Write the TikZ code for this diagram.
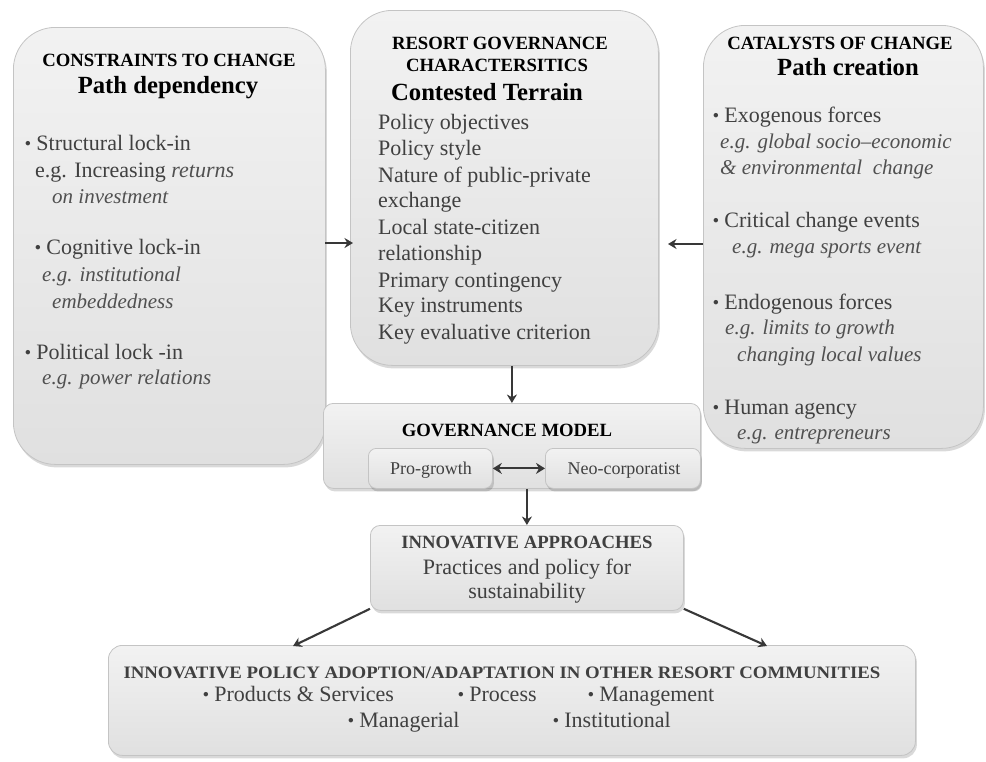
\documentclass[tikz,border=0pt]{standalone}
\usepackage{fontspec}
\setmainfont{Liberation Serif}
\usetikzlibrary{shadows,arrows.meta}
\definecolor{boxborder}{HTML}{C4C4C4}
\definecolor{boxtop}{HTML}{F2F2F2}
\definecolor{boxbot}{HTML}{E0E0E0}
\definecolor{txt}{HTML}{404040}
\definecolor{ital}{HTML}{505050}
\definecolor{arrowc}{HTML}{383838}
\tikzset{
  panel/.style={draw=boxborder, line width=0.8pt, top color=boxtop, bottom color=boxbot,
    drop shadow={shadow xshift=1.5pt, shadow yshift=-3pt, fill=black, opacity=0.15},
    inner sep=0pt, anchor=north west},
  big/.style={panel, rounded corners=42pt},
  small/.style={panel, rounded corners=10pt},
  hd/.style={anchor=base, inner sep=0pt, font=\fontsize{18.7}{21}\selectfont\bfseries, text=black},
  ti/.style={anchor=base, inner sep=0pt, font=\fontsize{24.7}{28}\selectfont\bfseries, text=black},
  it/.style={anchor=base west, inner sep=0pt, font=\fontsize{22}{26}\selectfont, text=txt},
  em/.style={anchor=base west, inner sep=0pt, font=\fontsize{21}{25}\selectfont\itshape, text=ital},
  ct/.style={anchor=base, inner sep=0pt, font=\fontsize{22}{26}\selectfont, text=txt},
  arr/.style={draw=arrowc, line width=2.1pt, -{Stealth[length=8.5pt,width=10pt]}},
  darr/.style={draw=arrowc, line width=2.1pt, {Stealth[length=9pt,width=11pt]}-{Stealth[length=9pt,width=11pt]}},
}
\newcommand{\bul}{\raisebox{0.18em}{\scalebox{0.55}{$\bullet$}}\ }
\begin{document}
\begin{tikzpicture}[x=1pt,y=-1pt]
\useasboundingbox[fill=white] (0,0) rectangle (986,761);

% boxes
\node[big, minimum width=312pt, minimum height=437pt] (L) at (13,27) {};
\node[big, minimum width=308pt, minimum height=355pt] (C) at (350,10) {};
\node[big, minimum width=280pt, minimum height=423pt] (R) at (703,25) {};
\node[small, minimum width=377pt, minimum height=85pt] (G) at (323,403) {};
\node[small, minimum width=124pt, minimum height=40pt, rounded corners=8pt] (PG) at (368,448) {};
\node[small, minimum width=155pt, minimum height=40pt, rounded corners=8pt] (NC) at (545,448) {};
\node[small, minimum width=313pt, minimum height=85pt] (I) at (370,525) {};
\node[small, minimum width=807pt, minimum height=110pt, rounded corners=14pt] (B) at (108,645) {};

% left box text
\node[hd] (l1) at (169,66) {CONSTRAINTS TO CHANGE};
\node[ti] (l2) at (168,93) {Path dependency};
\node[it] (l3) at (25,150) {\bul Structural lock-in};
\node[it] (l4) at (35,177) {e.g. Increasing \textit{\color{ital}returns}};
\node[em] (l5) at (52,203) {on investment};
\node[it] (l6) at (35,254) {\bul Cognitive lock-in};
\node[em] (l7) at (42,281) {e.g. institutional};
\node[em] (l8) at (52,308) {embeddedness};
\node[it] (l9) at (25,359) {\bul Political lock -in};
\node[em] (l10) at (42,384) {e.g. power relations};

% centre box text
\node[hd] (c1) at (500,49) {RESORT GOVERNANCE};
\node[hd] (c2) at (497,71) {CHARACTERSITICS};
\node[ti] (c3) at (487,100) {Contested Terrain};
\node[it] (c4) at (378,129) {Policy objectives};
\node[it] (c5) at (378,155) {Policy style};
\node[it] (c6) at (378,182) {Nature of public-private};
\node[it] (c7) at (378,207) {exchange};
\node[it] (c8) at (378,234) {Local state-citizen};
\node[it] (c9) at (378,260) {relationship};
\node[it] (c10) at (378,287) {Primary contingency};
\node[it] (c11) at (378,312) {Key instruments};
\node[it] (c12) at (378,339) {Key evaluative criterion};

% right box text
\node[hd] (r1) at (840,49) {CATALYSTS OF CHANGE};
\node[ti] (r2) at (848,75) {Path creation};
\node[it] (r3) at (713,122) {\bul Exogenous forces};
\node[em] (r4) at (720,148) {e.g. global socio–economic};
\node[em] (r5) at (720,174) {\& environmental\ \ change};
\node[it] (r6) at (713,227) {\bul Critical change events};
\node[em] (r7) at (732,253) {e.g. mega sports event};
\node[it] (r8) at (713,309) {\bul Endogenous forces};
\node[em] (r9) at (725,334) {e.g. limits to growth};
\node[em] (r10) at (737,361) {changing local values};
\node[it] (r11) at (713,414) {\bul Human agency};
\node[em] (r12) at (737,439) {e.g. entrepreneurs};

% governance
\node[hd] (g1) at (507,436) {GOVERNANCE MODEL};
\node[ct, font=\fontsize{18}{22}\selectfont] (g2) at (431,474) {Pro-growth};
\node[ct, font=\fontsize{18}{22}\selectfont] (g3) at (624,474) {Neo-corporatist};

% innovative approaches
\node[hd, text=txt] (i1) at (527,548) {INNOVATIVE APPROACHES};
\node[ct] (i2) at (527,574) {Practices and policy for};
\node[ct] (i3) at (527,598) {sustainability};

% bottom
\node[hd, text=txt, font=\fontsize{17.5}{20}\selectfont\bfseries] (b1) at (502,678) {\resizebox{757pt}{\height}{INNOVATIVE POLICY ADOPTION/ADAPTATION IN OTHER RESORT COMMUNITIES}};
\node[it] (b2) at (203,701) {\bul Products \& Services};
\node[it] (b3) at (458,701) {\bul Process};
\node[it] (b4) at (588,701) {\bul Management};
\node[it] (b5) at (348,727) {\bul Managerial};
\node[it] (b6) at (553,727) {\bul Institutional};

% connectors
\coordinate (lA) at (325,243);
\coordinate (lB) at (353,243);
\coordinate (rA) at (703,244);
\coordinate (rB) at (668,244);
\draw[arr] (lA) -- (lB);
\draw[arr] (rA) -- (rB);
\draw[arr] (C.south -| G.north) -- (G.north);
\draw[darr] (PG.east) -- (NC.west);
\draw[arr] (G.south -| I.north) -- (I.north);
\coordinate (bl) at (293,646);
\coordinate (br) at (767,646);
\draw[arr] (I.south west) ++(0,-2) coordinate (ia) (ia) -- (bl);
\draw[arr] (I.south east) ++(0,-2) coordinate (ib) (ib) -- (br);
\end{tikzpicture}
\end{document}
